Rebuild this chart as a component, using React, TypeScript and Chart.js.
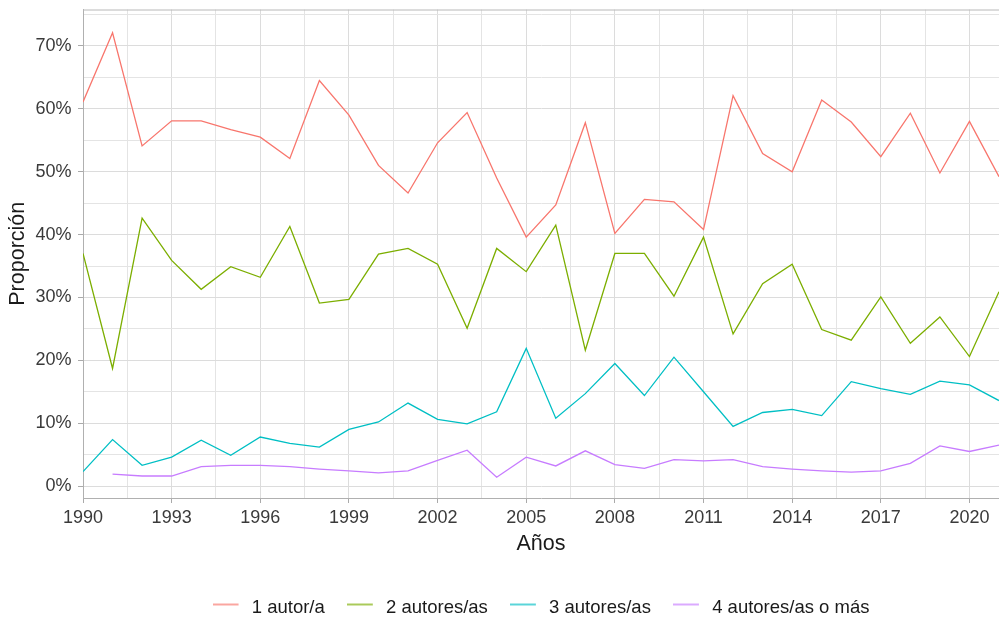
import React, { useEffect, useRef } from "react";
import { Chart, registerables } from "chart.js";

Chart.register(...registerables);

// ---- data ----
const years = [
  1990, 1991, 1992, 1993, 1994, 1995, 1996, 1997, 1998, 1999, 2000, 2001, 2002, 2003, 2004, 2005,
  2006, 2007, 2008, 2009, 2010, 2011, 2012, 2013, 2014, 2015, 2016, 2017, 2018, 2019, 2020, 2021,
];
const seriesNames = ["1 autor/a", "2 autores/as", "3 autores/as", "4 autores/as o más"];
const unAutor = [
  61.1, 72.1, 54.1, 58.1, 58.1, 56.7, 55.5, 52.1, 64.5, 59.0, 51.0, 46.6, 54.6, 59.4, 49.0, 39.6,
  44.7, 57.8, 40.2, 45.6, 45.2, 40.8, 62.1, 52.9, 50.0, 61.4, 57.9, 52.4, 59.3, 49.8, 58.0, 49.2,
];
const dosAutores = [
  37.0, 18.7, 42.6, 35.9, 31.3, 34.9, 33.2, 41.3, 29.1, 29.7, 36.9, 37.8, 35.3, 25.1, 37.8, 34.1,
  41.5, 21.6, 37.0, 37.0, 30.2, 39.6, 24.2, 32.2, 35.3, 24.9, 23.2, 30.1, 22.7, 26.9, 20.6, 30.9,
];
const tresAutores = [
  2.3, 7.4, 3.3, 4.6, 7.3, 4.9, 7.8, 6.8, 6.2, 9.0, 10.2, 13.2, 10.6, 9.9, 11.8, 21.9,
  10.8, 14.7, 19.5, 14.4, 20.5, 15.0, 9.5, 11.7, 12.2, 11.2, 16.6, 15.5, 14.6, 16.7, 16.1, 13.6,
];
const cuatroOMas = [
  null, 1.9, 1.6, 1.6, 3.1, 3.3, 3.3, 3.1, 2.7, 2.4, 2.1, 2.4, 4.1, 5.7, 1.4, 4.6,
  3.2, 5.6, 3.4, 2.8, 4.2, 4.0, 4.2, 3.1, 2.7, 2.4, 2.2, 2.4, 3.6, 6.4, 5.5, 6.5,
];
const seriesColors = ["#F8766D", "#7CAE00", "#00BFC4", "#C77CFF"];
const xTickLabels = [1990, 1993, 1996, 1999, 2002, 2005, 2008, 2011, 2014, 2017, 2020];
const yTickLabels = [0, 10, 20, 30, 40, 50, 60, 70];
const xMin = 1990;
const xMax = 2021;
const yMin = -1.9;
const yMax = 75.8;

const FONT = "'Liberation Sans', Arial, Helvetica, sans-serif";

function makeSwatch(color: string): HTMLCanvasElement {
  const c = document.createElement("canvas");
  c.width = 30;
  c.height = 10;
  const g = c.getContext("2d")!;
  g.strokeStyle = color;
  g.lineWidth = 1.3;
  g.beginPath();
  g.moveTo(0, 2);
  g.lineTo(26, 2);
  g.stroke();
  return c;
}

const topBorder = {
  id: "topBorder",
  afterDatasetsDraw(chart: any) {
    const { ctx, chartArea } = chart;
    ctx.save();
    ctx.strokeStyle = "#b8b8b8";
    ctx.lineWidth = 1;
    ctx.beginPath();
    ctx.moveTo(chartArea.left, chartArea.top + 0.5);
    ctx.lineTo(chartArea.right, chartArea.top + 0.5);
    ctx.stroke();
    ctx.restore();
  },
};

export default function App() {
  const ref = useRef<HTMLCanvasElement | null>(null);

  useEffect(() => {
    if (!ref.current) return;
    const all = [unAutor, dosAutores, tresAutores, cuatroOMas];
    const datasets = all.map((vals, i) => ({
      label: seriesNames[i],
      data: years.map((y, j) => ({ x: y, y: vals[j] })),
      borderColor: seriesColors[i],
      backgroundColor: seriesColors[i],
      borderWidth: 1.3,
      pointRadius: 0,
      pointHoverRadius: 0,
      pointStyle: makeSwatch(seriesColors[i]),
      tension: 0,
      spanGaps: false,
    }));

    const xGrid = [...xTickLabels, ...xTickLabels.map((v) => v + 1.5)]
      .filter((v) => v <= xMax)
      .sort((a, b) => a - b);
    const yGrid = [...yTickLabels, ...yTickLabels.map((v) => v + 5)]
      .filter((v) => v <= yMax)
      .sort((a, b) => a - b);

    const chart = new Chart(ref.current, {
      type: "line",
      data: { datasets } as any,
      plugins: [topBorder],
      options: {
        animation: false,
        responsive: false,
        events: [],
        layout: { padding: { top: 9.5, left: 0, right: 0, bottom: 0 } },
        scales: {
          x: {
            type: "linear",
            min: xMin,
            max: xMax,
            afterBuildTicks: (s: any) => {
              s.ticks = xGrid.map((v) => ({ value: v }));
            },
            afterFit: (s: any) => {
              s.height = 78.25;
              s.paddingLeft = 0;
              s.paddingRight = 0;
            },
            ticks: {
              autoSkip: false,
              maxRotation: 0,
              padding: 4.5,
              color: "#3a3a3a",
              font: { family: FONT, size: 18 },
              callback: (v: any) => (xTickLabels.includes(Number(v)) ? String(v) : ""),
            },
            grid: {
              color: (c: any) => (xTickLabels.includes(c.tick?.value) ? "#dcdcdc" : "#e4e4e4"),
              lineWidth: 1,
              tickLength: 5,
              tickColor: (c: any) => (xTickLabels.includes(c.tick?.value) ? "#aaaaaa" : "rgba(0,0,0,0)"),
            },
            border: { color: "#b0b0b0", width: 1 },
            title: {
              display: true,
              text: "Años",
              color: "#1a1a1a",
              font: { family: FONT, size: 21.5 },
              padding: { top: 0, bottom: 19 },
            },
          },
          y: {
            type: "linear",
            min: yMin,
            max: yMax,
            afterBuildTicks: (s: any) => {
              s.ticks = yGrid.map((v) => ({ value: v }));
            },
            afterFit: (s: any) => {
              s.width = 83;
              s.paddingTop = 0;
              s.paddingBottom = 0;
            },
            ticks: {
              autoSkip: false,
              padding: 6.5,
              color: "#3a3a3a",
              font: { family: FONT, size: 18 },
              callback: (v: any) => (yTickLabels.includes(Number(v)) ? `${v}%` : ""),
            },
            grid: {
              color: (c: any) => (yTickLabels.includes(c.tick?.value) ? "#dcdcdc" : "#e4e4e4"),
              lineWidth: 1,
              tickLength: 5,
              tickColor: (c: any) => (yTickLabels.includes(c.tick?.value) ? "#aaaaaa" : "rgba(0,0,0,0)"),
            },
            border: { color: "#b0b0b0", width: 1 },
            title: {
              display: true,
              text: "Proporción",
              color: "#1a1a1a",
              font: { family: FONT, size: 21.5 },
              padding: { top: 5.4, bottom: 0 },
            },
          },
        },
        plugins: {
          tooltip: { enabled: false },
          legend: {
            display: true,
            position: "bottom",
            fullSize: false,
            maxHeight: 41.75,
            labels: {
              usePointStyle: true,
              pointStyleWidth: 30,
              padding: 22,
              color: "#1a1a1a",
              font: { family: FONT, size: 18.5 },
            },
          },
        },
      } as any,
    });
    return () => chart.destroy();
  }, []);

  return (
    <div style={{ position: "absolute", left: 0, top: 0, width: 999, height: 618, background: "#fff" }}>
      <canvas ref={ref} width={999} height={618} style={{ width: 999, height: 618, display: "block" }} />
    </div>
  );
}
